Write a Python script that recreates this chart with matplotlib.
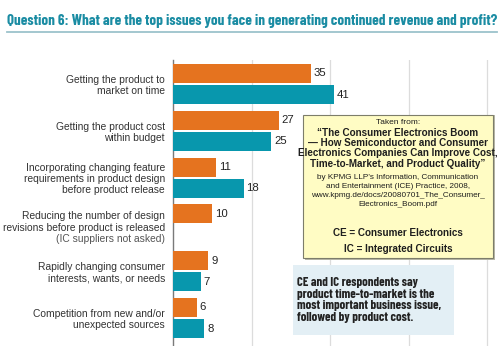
import matplotlib.pyplot as plt
import numpy as np
from matplotlib.patches import Rectangle
from matplotlib.transforms import blended_transform_factory

# survey answers, percent of respondents
issues = [
    "Getting the product to\nmarket on time",
    "Getting the product cost\nwithin budget",
    "Incorporating changing feature\nrequirements in product design\nbefore product release",
    "Reducing the number of design\nrevisions before product is released",
    "Rapidly changing consumer\ninterests, wants, or needs",
    "Competition from new and/or\nunexpected sources",
]
ce_values = [35, 27, 11, 10, 9, 6]
ic_values = [41, 25, 18, np.nan, 7, 8]
ic_note = "(IC suppliers not asked)"

title = "Question 6: What are the top issues you face in generating continued revenue and profit?"
source_lines = [
    ("Taken from:", 6.0, "normal"),
    ("\u201cThe Consumer Electronics Boom", 7.1, "bold"),
    ("\u2014 How Semiconductor and Consumer", 7.1, "bold"),
    ("Electronics Companies Can Improve Cost,", 7.1, "bold"),
    ("Time-to-Market, and Product Quality\u201d", 7.1, "bold"),
    ("by KPMG LLP\u2019s Information, Communication", 5.9, "normal"),
    ("and Entertainment (ICE) Practice, 2008,", 5.9, "normal"),
    ("www.kpmg.de/docs/20080701_The_Consumer_", 5.9, "normal"),
    ("Electronics_Boom.pdf", 5.9, "normal"),
    ("CE = Consumer Electronics", 7.1, "bold"),
    ("IC = Integrated Circuits", 7.1, "bold"),
]
source_y = [122, 132.5, 143, 153.5, 164, 177.5, 186.5, 195.5, 204.5, 233, 249]
callout = "CE and IC respondents say\nproduct time-to-market is the\nmost important business issue,\nfollowed by product cost."

ORANGE = "#e5731f"
TEAL = "#0897ad"
COND = "Barlow Condensed"
W, H = 500, 346

fig = plt.figure(figsize=(W / 100, H / 100), dpi=100)
fig.patch.set_facecolor("white")
renderer = fig.canvas.get_renderer()


def fx(x):
    return x / W


def fy(y):
    return 1 - y / H


def fit_width(t, px):
    # rescale a text so its rendered width is px pixels
    w = t.get_window_extent(renderer).width
    t.set_fontsize(t.get_fontsize() * px / w)


# plot area
ax = fig.add_axes([fx(173), 0, fx(W - 173), 1 - (60 / H)])
n = len(issues)
y = np.arange(n)
step = 46.8
top = -(84 - 60) / step
bottom = top + (H - 60) / step
bh = 19 / step
off = 10.5 / step

ax.barh(y - off, ce_values, height=bh, color=ORANGE, zorder=3)
ax.barh(y + off, ic_values, height=bh, color=TEAL, zorder=3)
ax.set_ylim(bottom, top)
ax.set_xlim(0, (W - 173) / 3.93)
ax.set_xticks([20, 40, 60, 80])
ax.grid(axis="x", color="#dcdcdc", linewidth=0.9, zorder=0)
ax.tick_params(left=False, bottom=False, labelleft=False, labelbottom=False)
for s in ["top", "right", "bottom"]:
    ax.spines[s].set_visible(False)
ax.spines["left"].set_color("#7a7a7a")
ax.spines["left"].set_linewidth(1.0)

for i in range(n):
    ax.text(ce_values[i] + 0.7, y[i] - off, str(ce_values[i]), va="center", ha="left",
            fontsize=8.2, color="#222222", family="Liberation Sans")
    if not np.isnan(ic_values[i]):
        ax.text(ic_values[i] + 0.7, y[i] + off, str(int(ic_values[i])), va="center", ha="left",
                fontsize=8.2, color="#222222", family="Liberation Sans")

# category labels to the left of the axis
lab_tr = blended_transform_factory(fig.transFigure, ax.transData)
line = 11.6 / step
for i, lab in enumerate(issues):
    if i == 3:
        y0 = y[i] - 0.05
        ax.text(fx(165), y0, lab, transform=lab_tr, ha="right", va="center",
                fontsize=7.4, color="#333333", family="Liberation Sans", linespacing=1.15)
        ax.text(fx(165), y0 + 1.46 * line, ic_note, transform=lab_tr, ha="right", va="center",
                fontsize=7.4, color="#555555", family="Liberation Sans")
    else:
        ax.text(fx(165), y[i] + 0.03, lab, transform=lab_tr, ha="right", va="center",
                fontsize=7.4, color="#333333", family="Liberation Sans", linespacing=1.15)

# heading with rule underneath
t = fig.text(fx(7), fy(21.5), title, ha="left", va="center", fontsize=12, fontweight="bold",
             color="#1a8ca3", family=COND)
fit_width(t, 490)
fig.add_artist(plt.Line2D([fx(7), fx(497)], [fy(31.5), fy(31.5)], color="#9cc3cc", linewidth=1.3))

# source box with shadow
fig.add_artist(Rectangle((fx(305), fy(260)), fx(190), (260 - 115) / H, facecolor="#b8b8a8",
                         edgecolor="none", zorder=4))
fig.add_artist(Rectangle((fx(303), fy(258)), fx(190), (258 - 115) / H, facecolor="#fffcc4",
                         edgecolor="#7d7d6a", linewidth=0.8, zorder=5))
for (txt, fs, fw), yy in zip(source_lines, source_y):
    fig.text(fx(398), fy(yy), txt, ha="center", va="center", fontsize=fs, fontweight=fw,
             color="#1e1e1e", family="Liberation Sans", zorder=6)

# summary callout
fig.add_artist(Rectangle((fx(293), fy(335)), fx(454 - 293), (335 - 265) / H, facecolor="#e3eff5",
                         edgecolor="none", zorder=4))
c = fig.text(fx(297), fy(300), callout, ha="left", va="center", fontsize=9, fontweight="bold",
             color="#222222", family=COND, linespacing=1.05, zorder=6)
fit_width(c, 145)

fig.savefig("out.png", dpi=100)
